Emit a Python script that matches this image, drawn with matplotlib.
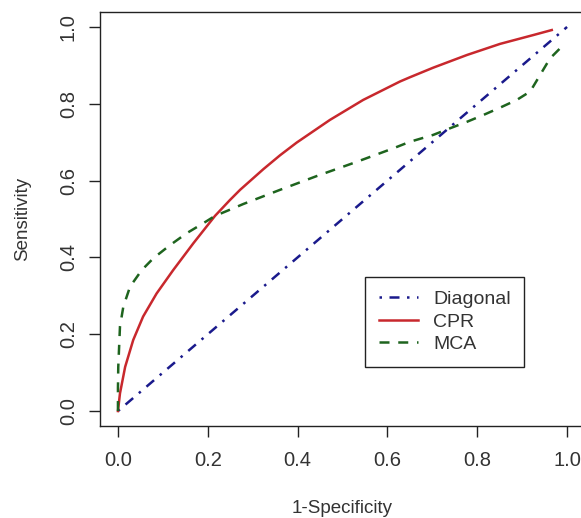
import numpy as np
import matplotlib.pyplot as plt

plt.rcParams['font.family'] = ['Liberation Sans', 'DejaVu Sans']

# ROC points
diag_fpr = [0.0, 1.0]
diag_tpr = [0.0, 1.0]

cpr_fpr = [0.0, 0.0045, 0.016, 0.034, 0.056, 0.086, 0.123, 0.168, 0.216, 0.249, 0.272,
           0.324, 0.361, 0.398, 0.472, 0.546, 0.628, 0.65, 0.702, 0.777, 0.851, 0.925, 0.966]
cpr_tpr = [0.0, 0.046, 0.115, 0.185, 0.246, 0.306, 0.367, 0.437, 0.508, 0.549, 0.576,
           0.630, 0.666, 0.699, 0.758, 0.81, 0.858, 0.869, 0.894, 0.927, 0.956, 0.979, 0.992]

mca_fpr = [0.0, 0.0, 0.0007, 0.0045, 0.012, 0.027, 0.053, 0.079, 0.116, 0.153, 0.19,
           0.216, 0.257, 0.279, 0.361, 0.443, 0.532, 0.613, 0.65, 0.702, 0.739, 0.777,
           0.814, 0.851, 0.888, 0.918, 0.94, 0.962, 0.985]
mca_tpr = [0.0, 0.06, 0.115, 0.22, 0.272, 0.324, 0.367, 0.398, 0.432, 0.463, 0.489,
           0.508, 0.528, 0.539, 0.576, 0.612, 0.649, 0.684, 0.701, 0.719, 0.736, 0.753,
           0.771, 0.79, 0.81, 0.832, 0.875, 0.918, 0.945]

ticks = [0.0, 0.2, 0.4, 0.6, 0.8, 1.0]
tick_labels = ['0.0', '0.2', '0.4', '0.6', '0.8', '1.0']

fig = plt.figure(figsize=(5.81, 5.18), dpi=100)
ax = fig.add_axes([0.1721, 0.1768, 0.8348, 0.8008])

lw = 1.8
ax.plot(diag_fpr, diag_tpr, color='#1a1a8c', lw=lw, dashes=(1, 3, 4, 3), label='Diagonal')
ax.plot(cpr_fpr, cpr_tpr, color='#c8282d', lw=lw, label='CPR')
ax.plot(mca_fpr, mca_tpr, color='#1e641e', lw=lw, dashes=(4, 3.5), label='MCA')

ax.set_xlim(-0.04, 1.04)
ax.set_ylim(-0.04, 1.04)
ax.set_xticks(ticks)
ax.set_xticklabels(tick_labels)
ax.set_yticks(ticks)
ax.set_yticklabels(tick_labels, rotation=90, va='center')
ax.tick_params(direction='out', length=8, width=1, colors='#222222',
               labelsize=14.5, labelcolor='#333333')
ax.tick_params(axis='x', pad=10)
ax.tick_params(axis='y', pad=8)
for s in ax.spines.values():
    s.set_linewidth(1.0)
    s.set_color('#222222')

ax.set_xlabel('1-Specificity', fontsize=13.5, color='#333333', va='center')
ax.xaxis.set_label_coords(0.5, -0.197)
ax.set_ylabel('Sensitivity', fontsize=13.5, color='#333333', va='center')
ax.yaxis.set_label_coords(-0.16, 0.5)

leg = ax.legend(loc='upper left', bbox_to_anchor=(365 / 581, 1 - 277 / 518),
                bbox_transform=fig.transFigure, fontsize=14, frameon=True,
                fancybox=False, edgecolor='#222222', framealpha=1,
                handlelength=2.0, handletextpad=0.8, borderpad=0.7,
                labelspacing=0.25, borderaxespad=0)
leg.get_frame().set_linewidth(1.0)
for t in leg.get_texts():
    t.set_color('#333333')

fig.savefig('out.png', dpi=100)
